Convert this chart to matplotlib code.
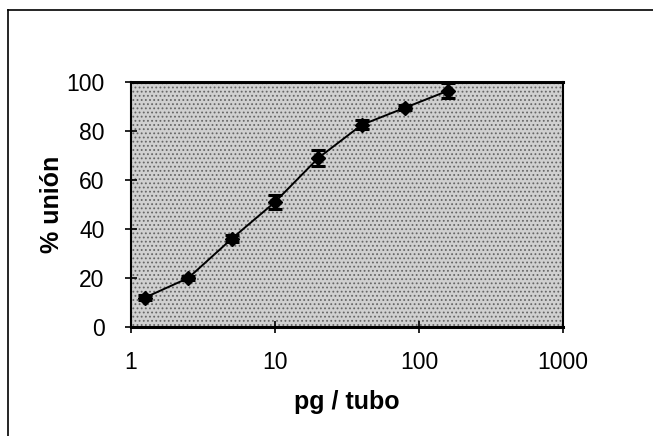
import matplotlib.pyplot as plt
from matplotlib.lines import Line2D

plt.rcParams['font.family'] = ['Liberation Sans', 'DejaVu Sans']
plt.rcParams['hatch.linewidth'] = 0.8

# data
pg_tubo = [1.25, 2.5, 5, 10, 20, 40, 80, 160]
union = [12, 20, 36, 51, 69, 82.5, 89.5, 96.5]
err = [1.0, 1.0, 1.5, 2.7, 3.3, 1.8, 1.0, 3.0]
x_ticks = [1, 10, 100, 1000]
y_ticks = [0, 20, 40, 60, 80, 100]

fig = plt.figure(figsize=(6.53, 4.36), dpi=100)
fig.patch.set_facecolor('white')

# outer frame of the original figure (top and left edges)
fig.add_artist(Line2D([8 / 653, 1], [1 - 10 / 436, 1 - 10 / 436], color='black', lw=1.2))
fig.add_artist(Line2D([8 / 653, 8 / 653], [0, 1 - 10 / 436], color='black', lw=1.2))

ax = fig.add_axes([131 / 653, 1 - 327 / 436, 432 / 653, 245 / 436])
ax.set_facecolor('#d0d0d0')
ax.patch.set_edgecolor('#666666')
ax.patch.set_linewidth(0)
ax.patch.set_hatch('....')

ax.errorbar(pg_tubo, union, yerr=err, color='black', marker='D', ms=7,
            lw=1.4, elinewidth=1.6, capsize=5, capthick=2.2)

ax.set_xscale('log')
ax.set_xlim(1, 1000)
ax.set_ylim(0, 100)
ax.set_xticks(x_ticks)
ax.set_xticklabels([str(v) for v in x_ticks])
ax.xaxis.set_minor_locator(plt.NullLocator())
ax.set_yticks(y_ticks)

for s in ax.spines.values():
    s.set_color('black')
ax.spines['top'].set_linewidth(2.2)
ax.spines['bottom'].set_linewidth(2.2)
ax.spines['left'].set_linewidth(1.5)
ax.spines['right'].set_linewidth(1.5)

ax.tick_params(axis='both', direction='inout', length=8, width=1.2,
               labelsize=16.5)
ax.tick_params(axis='y', pad=15)
ax.tick_params(axis='x', pad=13)

ax.set_xlabel('pg / tubo', fontsize=18, fontweight='bold', labelpad=12)
ax.set_ylabel('% unión', fontsize=18, fontweight='bold', labelpad=2)

fig.savefig('out.png', dpi=100)
